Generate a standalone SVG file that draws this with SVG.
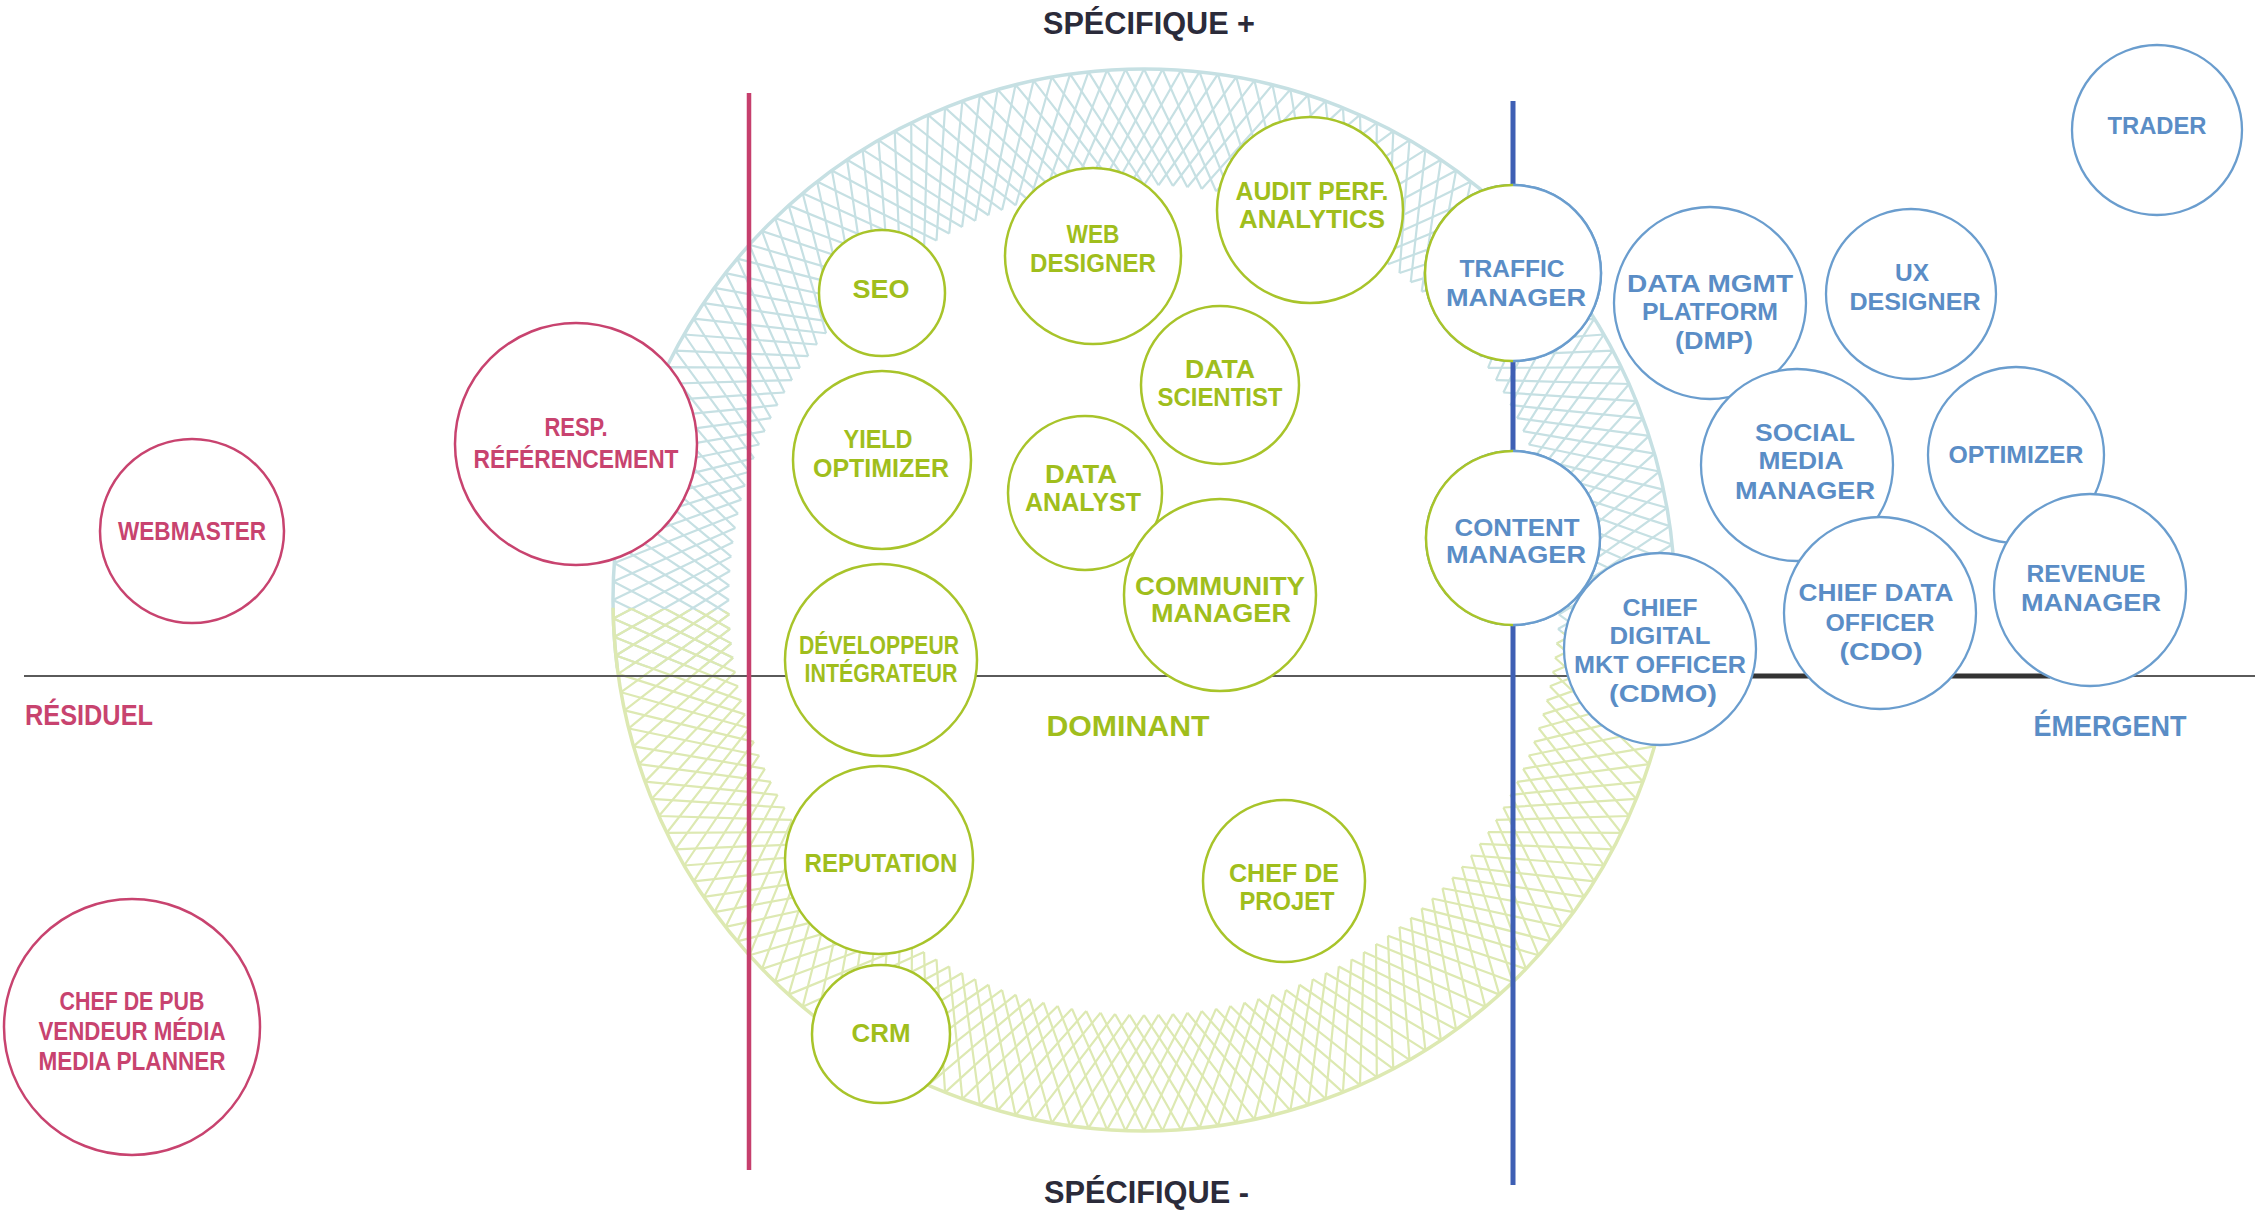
<svg xmlns="http://www.w3.org/2000/svg" xmlns:xlink="http://www.w3.org/1999/xlink" width="2255" height="1210" viewBox="0 0 2255 1210">
<style>
text{font-family:"Liberation Sans",Arial,sans-serif;font-weight:bold;text-anchor:middle}
.n circle,.n path{fill:#fff;stroke-width:2.5}
.pk circle{stroke:#c8436f}
.pk text{fill:#c8436f;font-size:26px}
.gr circle{stroke:#a8c42a}
.gr text{fill:#a0be1c;font-size:25px}
.bl circle{stroke:#6a9dce;stroke-width:2.3}
.bl text{fill:#5a8dc6;font-size:24px}
.ax{fill:#2b2b3a;font-size:31px;text-anchor:start}
.lab{font-size:29px}
</style>
<defs>
<g id="t"><path d="M1144 69L1201.76 189.04M1144 69L1086.24 189.04"/></g>
<g id="r1"><use href="#t"/><use href="#t" transform="rotate(2 1144 600)"/></g>
<g id="r2"><use href="#r1"/><use href="#r1" transform="rotate(4 1144 600)"/><use href="#r1" transform="rotate(8 1144 600)"/></g>
<g id="r3"><use href="#r2"/><use href="#r2" transform="rotate(12 1144 600)"/><use href="#r2" transform="rotate(24 1144 600)"/></g>
<g id="ring"><use href="#r3"/><use href="#r3" transform="rotate(36 1144 600)"/><use href="#r3" transform="rotate(72 1144 600)"/><use href="#r3" transform="rotate(108 1144 600)"/><use href="#r3" transform="rotate(144 1144 600)"/><use href="#r3" transform="rotate(180 1144 600)"/><use href="#r3" transform="rotate(216 1144 600)"/><use href="#r3" transform="rotate(252 1144 600)"/><use href="#r3" transform="rotate(288 1144 600)"/><use href="#r3" transform="rotate(324 1144 600)"/><circle cx="1144" cy="600" r="531" stroke-width="3.5"/></g>
<clipPath id="cb"><polygon points="0,0 2255,0 2255,643 0,678"/></clipPath>
<clipPath id="cg"><polygon points="0,592 2255,650 2255,1210 0,1210"/></clipPath>
</defs>
<rect width="2255" height="1210" fill="#fff"/>
<g id="ring-top" clip-path="url(#cb)" fill="none" stroke="#c6e0e3" stroke-width="2.2"><use href="#ring"/></g>
<g id="ring-bottom" clip-path="url(#cg)" fill="none" stroke="#dde9b2" stroke-width="2.2"><use href="#ring"/></g>
<g id="connectors">
<line x1="24" y1="676" x2="2255" y2="676" stroke="#5a5a5a" stroke-width="2"/>
<line x1="1745" y1="676" x2="2050" y2="676" stroke="#333" stroke-width="5"/>
<line x1="749" y1="93" x2="749" y2="1170" stroke="#c63f6d" stroke-width="4.5"/>
<line x1="1513" y1="101" x2="1513" y2="1185" stroke="#3e5fb4" stroke-width="5"/>
</g>
<g id="labels">
<text class="ax" x="1043" y="34" textLength="212" lengthAdjust="spacingAndGlyphs">SPÉCIFIQUE +</text>
<text class="ax" x="1044" y="1203" textLength="205" lengthAdjust="spacingAndGlyphs">SPÉCIFIQUE -</text>
<text class="lab" x="89" y="725" fill="#c8436f" textLength="128" lengthAdjust="spacingAndGlyphs">RÉSIDUEL</text>
<text class="lab" x="1128" y="736" fill="#a0be1c" textLength="163" lengthAdjust="spacingAndGlyphs">DOMINANT</text>
<text class="lab" x="2110" y="736" fill="#5a8dc6" font-size="28" textLength="153" lengthAdjust="spacingAndGlyphs">ÉMERGENT</text>
</g>
<g id="webmaster" class="n pk"><circle cx="192" cy="531" r="92"/><text x="192" y="540" textLength="148" lengthAdjust="spacingAndGlyphs">WEBMASTER</text></g>
<g id="resp-referencement" class="n pk"><circle cx="576" cy="444" r="121"/><text x="576" y="436" textLength="63" lengthAdjust="spacingAndGlyphs">RESP.</text><text x="576" y="468" textLength="205" lengthAdjust="spacingAndGlyphs">RÉFÉRENCEMENT</text></g>
<g id="chef-de-pub" class="n pk"><circle cx="132" cy="1027" r="128"/><text x="132" y="1010" font-size="22" textLength="145" lengthAdjust="spacingAndGlyphs">CHEF DE PUB</text><text x="132" y="1040" font-size="22" textLength="187" lengthAdjust="spacingAndGlyphs">VENDEUR MÉDIA</text><text x="132" y="1070" font-size="22" textLength="187" lengthAdjust="spacingAndGlyphs">MEDIA PLANNER</text></g>
<g id="seo" class="n gr"><circle cx="882" cy="293" r="63"/><text x="881" y="298" textLength="57" lengthAdjust="spacingAndGlyphs">SEO</text></g>
<g id="web-designer" class="n gr"><circle cx="1093" cy="256" r="88"/><text x="1093" y="243" textLength="53" lengthAdjust="spacingAndGlyphs">WEB</text><text x="1093" y="272" textLength="126" lengthAdjust="spacingAndGlyphs">DESIGNER</text></g>
<g id="audit-perf" class="n gr"><circle cx="1310" cy="210" r="93"/><text x="1312" y="200" textLength="153" lengthAdjust="spacingAndGlyphs">AUDIT PERF.</text><text x="1312" y="228" textLength="146" lengthAdjust="spacingAndGlyphs">ANALYTICS</text></g>
<g id="data-scientist" class="n gr"><circle cx="1220" cy="385" r="79"/><text x="1220" y="378" textLength="70" lengthAdjust="spacingAndGlyphs">DATA</text><text x="1220" y="406" textLength="125" lengthAdjust="spacingAndGlyphs">SCIENTIST</text></g>
<g id="yield-optimizer" class="n gr"><circle cx="882" cy="460" r="89"/><text x="878" y="448" textLength="69" lengthAdjust="spacingAndGlyphs">YIELD</text><text x="881" y="477" textLength="136" lengthAdjust="spacingAndGlyphs">OPTIMIZER</text></g>
<g id="data-analyst" class="n gr"><circle cx="1085" cy="493" r="77"/><text x="1081" y="483" textLength="72" lengthAdjust="spacingAndGlyphs">DATA</text><text x="1083" y="511" textLength="116" lengthAdjust="spacingAndGlyphs">ANALYST</text></g>
<g id="community-manager" class="n gr"><circle cx="1220" cy="595" r="96"/><text x="1220" y="595" textLength="170" lengthAdjust="spacingAndGlyphs">COMMUNITY</text><text x="1221" y="622" textLength="140" lengthAdjust="spacingAndGlyphs">MANAGER</text></g>
<g id="developpeur" class="n gr"><circle cx="881" cy="660" r="96"/><text x="879" y="654" font-size="23" textLength="160" lengthAdjust="spacingAndGlyphs">DÉVELOPPEUR</text><text x="881" y="682" font-size="23" textLength="153" lengthAdjust="spacingAndGlyphs">INTÉGRATEUR</text></g>
<g id="reputation" class="n gr"><circle cx="879" cy="860" r="94"/><text x="881" y="872" textLength="153" lengthAdjust="spacingAndGlyphs">REPUTATION</text></g>
<g id="crm" class="n gr"><circle cx="881" cy="1034" r="69"/><text x="881" y="1042" textLength="59" lengthAdjust="spacingAndGlyphs">CRM</text></g>
<g id="chef-de-projet" class="n gr"><circle cx="1284" cy="881" r="81"/><text x="1284" y="882" textLength="110" lengthAdjust="spacingAndGlyphs">CHEF DE</text><text x="1287" y="910" textLength="95" lengthAdjust="spacingAndGlyphs">PROJET</text></g>
<g id="traffic-manager" class="n bl"><circle cx="1513" cy="273" r="88" stroke="none"/><path d="M1513 185A88 88 0 0 0 1513 361" fill="none" stroke="#a8c42a"/><path d="M1513 185A88 88 0 0 1 1513 361" fill="none" stroke="#6a9dce"/><text x="1512" y="277" textLength="105" lengthAdjust="spacingAndGlyphs">TRAFFIC</text><text x="1516" y="306" textLength="140" lengthAdjust="spacingAndGlyphs">MANAGER</text></g>
<g id="content-manager" class="n bl"><circle cx="1513" cy="538" r="87" stroke="none"/><path d="M1513 451A87 87 0 0 0 1513 625" fill="none" stroke="#a8c42a"/><path d="M1513 451A87 87 0 0 1 1513 625" fill="none" stroke="#6a9dce"/><text x="1517" y="536" textLength="125" lengthAdjust="spacingAndGlyphs">CONTENT</text><text x="1516" y="563" textLength="140" lengthAdjust="spacingAndGlyphs">MANAGER</text></g>
<g id="dmp" class="n bl"><circle cx="1710" cy="303" r="96"/><text x="1710" y="292" textLength="166" lengthAdjust="spacingAndGlyphs">DATA MGMT</text><text x="1710" y="320" textLength="136" lengthAdjust="spacingAndGlyphs">PLATFORM</text><text x="1714" y="349" textLength="78" lengthAdjust="spacingAndGlyphs">(DMP)</text></g>
<g id="ux-designer" class="n bl"><circle cx="1911" cy="294" r="85"/><text x="1912" y="281" textLength="34" lengthAdjust="spacingAndGlyphs">UX</text><text x="1915" y="310" textLength="131" lengthAdjust="spacingAndGlyphs">DESIGNER</text></g>
<g id="trader" class="n bl"><circle cx="2157" cy="130" r="85"/><text x="2157" y="134" textLength="99" lengthAdjust="spacingAndGlyphs">TRADER</text></g>
<g id="social-media-manager" class="n bl"><circle cx="1797" cy="465" r="96"/><text x="1805" y="441" textLength="100" lengthAdjust="spacingAndGlyphs">SOCIAL</text><text x="1801" y="469" textLength="85" lengthAdjust="spacingAndGlyphs">MEDIA</text><text x="1805" y="499" textLength="140" lengthAdjust="spacingAndGlyphs">MANAGER</text></g>
<g id="optimizer" class="n bl"><circle cx="2016" cy="455" r="88"/><text x="2016" y="463" textLength="135" lengthAdjust="spacingAndGlyphs">OPTIMIZER</text></g>
<g id="cdmo" class="n bl"><circle cx="1660" cy="649" r="96"/><text x="1660" y="616" textLength="75" lengthAdjust="spacingAndGlyphs">CHIEF</text><text x="1660" y="644" textLength="101" lengthAdjust="spacingAndGlyphs">DIGITAL</text><text x="1660" y="673" textLength="172" lengthAdjust="spacingAndGlyphs">MKT OFFICER</text><text x="1663" y="702" textLength="108" lengthAdjust="spacingAndGlyphs">(CDMO)</text></g>
<g id="cdo" class="n bl"><circle cx="1880" cy="613" r="96"/><text x="1876" y="601" textLength="155" lengthAdjust="spacingAndGlyphs">CHIEF DATA</text><text x="1880" y="631" textLength="109" lengthAdjust="spacingAndGlyphs">OFFICER</text><text x="1881" y="660" textLength="83" lengthAdjust="spacingAndGlyphs">(CDO)</text></g>
<g id="revenue-manager" class="n bl"><circle cx="2090" cy="590" r="96"/><text x="2086" y="582" textLength="119" lengthAdjust="spacingAndGlyphs">REVENUE</text><text x="2091" y="611" textLength="140" lengthAdjust="spacingAndGlyphs">MANAGER</text></g>
</svg>
